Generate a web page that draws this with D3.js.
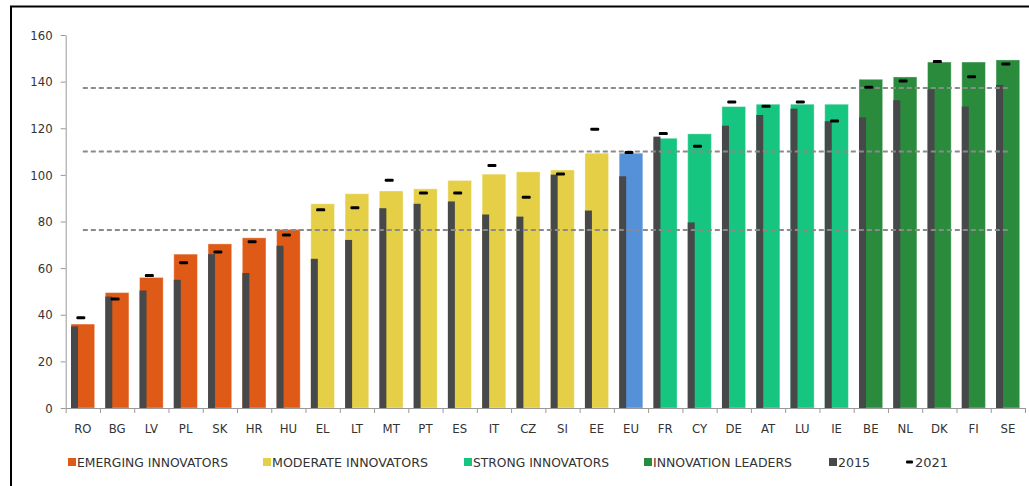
<!DOCTYPE html>
<html>
<head>
<meta charset="utf-8">
<script src="https://cdn.jsdelivr.net/npm/d3@7"></script>
<style>
  body { margin: 0; background: #fff; }
  text { font-family: "DejaVu Sans Condensed", "DejaVu Sans", sans-serif; fill: #333; }
  .axis path, .axis line { stroke: #999; }
</style>
</head>
<body>
<svg id="chart"></svg>
<script>
// country codes, in display order
const countries = ['RO','BG','LV','PL','SK','HR','HU','EL','LT','MT','PT','ES','IT','CZ','SI','EE','EU','FR','CY','DE','AT','LU','IE','BE','NL','DK','FI','SE'];
// performance group of each country
const groups = ['EM','EM','EM','EM','EM','EM','EM','MO','MO','MO','MO','MO','MO','MO','MO','MO','EU','ST','ST','ST','ST','ST','ST','LE','LE','LE','LE','LE'];
// current performance (coloured bars)
const current = [36.0,49.5,56.0,66.0,70.4,73.0,76.6,87.6,91.9,93.1,94.0,97.6,100.3,101.3,102.1,109.3,109.3,115.7,117.6,129.3,130.3,130.3,130.3,141.0,142.0,148.4,148.4,149.3];
// 2015 performance (dark bars)
const perf2015 = [35.0,47.8,50.4,55.0,66.0,57.9,69.6,64.0,72.1,85.7,87.6,88.6,83.0,82.1,100.1,84.7,99.4,116.4,79.6,121.1,125.7,128.4,123.0,124.7,132.0,136.7,129.3,138.6];
// 2021 performance (dash markers)
const perf2021 = [38.7,46.8,56.8,62.3,66.9,71.3,74.2,85.0,85.9,97.7,92.2,92.2,104.0,90.4,100.4,119.6,109.6,117.7,112.3,131.3,129.4,131.3,123.1,137.6,140.3,148.6,142.1,147.6];
// group thresholds (dashed lines)
const thresholds = [76.4, 110.0, 137.3];
const yTicks = [0,20,40,60,80,100,120,140,160];

const colors = {EM: '#df5a17', MO: '#e5cf46', ST: '#16c580', LE: '#2b8b3d', EU: '#5591d9'};
const darkColor = '#47484a';

const legendItems = [
  {label: 'EMERGING INNOVATORS', color: colors.EM, x: 68, len: 151, kind: 'sq'},
  {label: 'MODERATE INNOVATORS', color: colors.MO, x: 263, len: 156, kind: 'sq'},
  {label: 'STRONG INNOVATORS', color: colors.ST, x: 464, len: 136, kind: 'sq'},
  {label: 'INNOVATION LEADERS', color: colors.LE, x: 644, len: 139, kind: 'sq'},
  {label: '2015', color: darkColor, x: 829, len: 32, kind: 'sq'},
  {label: '2021', color: '#000', x: 906, len: 33, kind: 'dash'}
];

const width = 1029, height = 486;
const plotLeft = 65.7, plotRight = 1025, plotTop = 35, plotBottom = 408;

const svg = d3.select('#chart')
    .attr('width', width)
    .attr('height', height);

// frame lines
svg.append('line').attr('x1', 11).attr('x2', 11).attr('y1', 6).attr('y2', height)
    .attr('stroke', '#000').attr('stroke-width', 2);
svg.append('line').attr('x1', 10).attr('x2', width).attr('y1', 6.5).attr('y2', 6.5)
    .attr('stroke', '#000').attr('stroke-width', 2);

const x = d3.scaleBand()
    .domain(countries)
    .range([plotLeft, plotRight])
    .paddingInner(0.31)
    .paddingOuter(0.155);

const xEdges = d3.scaleLinear()
    .domain([0, countries.length])
    .range([plotLeft, plotRight]);

const y = d3.scaleLinear()
    .domain([0, 160])
    .range([plotBottom, plotTop]);

// y axis
const yAxisG = svg.append('g')
    .attr('class', 'axis')
    .attr('transform', `translate(${plotLeft},0)`)
    .call(d3.axisLeft(y).tickValues(yTicks).tickSize(5).tickPadding(8).tickSizeOuter(0));
yAxisG.selectAll('text').style('font-size', '13px').attr('fill', '#333');

const data = countries.map((c, i) => ({
  c, g: groups[i], cur: current[i], v15: perf2015[i], v21: perf2021[i]
}));

// coloured bars
svg.selectAll('.bar')
    .data(data)
  .join('rect')
    .attr('class', 'bar')
    .attr('x', d => x(d.c))
    .attr('width', x.bandwidth())
    .attr('y', d => y(d.cur))
    .attr('height', d => y(0) - y(d.cur))
    .attr('fill', d => colors[d.g])
    .attr('stroke', '#fff')
    .attr('stroke-opacity', 0.35)
    .attr('stroke-width', 1);

// 2015 bars
svg.selectAll('.bar15')
    .data(data)
  .join('rect')
    .attr('class', 'bar15')
    .attr('x', d => x(d.c))
    .attr('width', 7)
    .attr('y', d => y(d.v15))
    .attr('height', d => y(0) - y(d.v15))
    .attr('fill', darkColor);

// threshold lines
svg.selectAll('.thr')
    .data(thresholds)
  .join('line')
    .attr('class', 'thr')
    .attr('x1', x(countries[0]) + x.bandwidth() / 2)
    .attr('x2', x(countries[countries.length - 1]) + x.bandwidth() / 2)
    .attr('y1', d => y(d))
    .attr('y2', d => y(d))
    .attr('stroke', '#8a8a8a')
    .attr('stroke-width', 2)
    .attr('stroke-dasharray', '5,3');

// 2021 markers
svg.selectAll('.m21')
    .data(data)
  .join('rect')
    .attr('class', 'm21')
    .attr('x', d => x(d.c) + x.bandwidth() / 2 - 6.5)
    .attr('width', 9)
    .attr('y', d => y(d.v21) - 1.5)
    .attr('height', 3)
    .attr('rx', 1.2)
    .attr('fill', '#000');

// x axis: baseline with ticks at band edges
svg.append('g')
    .attr('class', 'axis')
    .attr('transform', `translate(0,${plotBottom})`)
    .call(d3.axisBottom(xEdges).tickValues(d3.range(countries.length + 1)).tickFormat('').tickSize(5).tickSizeOuter(0));

// x labels
const xLab = svg.append('g')
    .attr('transform', `translate(0,${plotBottom})`)
    .call(d3.axisBottom(x).tickSize(0).tickPadding(16));
xLab.select('.domain').remove();
xLab.selectAll('text').style('font-size', '13px').attr('fill', '#333');

// legend
const lg = svg.append('g').attr('transform', 'translate(0,462)');
legendItems.forEach(it => {
  if (it.kind === 'sq') {
    lg.append('rect').attr('x', it.x).attr('y', -4).attr('width', 8).attr('height', 8).attr('fill', it.color);
  } else {
    lg.append('rect').attr('x', it.x).attr('y', -1.5).attr('width', 7).attr('height', 3).attr('rx', 1).attr('fill', it.color);
  }
  lg.append('text')
      .attr('x', it.x + 9)
      .attr('y', 0)
      .attr('dy', '0.36em')
      .attr('textLength', it.len)
      .attr('lengthAdjust', 'spacingAndGlyphs')
      .style('font-size', '13px')
      .text(it.label);
});
</script>
</body>
</html>
